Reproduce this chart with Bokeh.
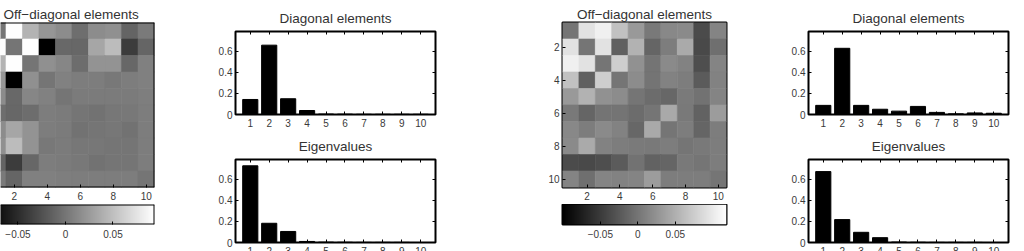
import numpy as np
from bokeh.plotting import figure
from bokeh.models import (ColumnDataSource, Range1d, LinearAxis, FixedTicker, LinearColorMapper, Span,
                          CustomLabelingPolicy)
from bokeh.layouts import row, column
from bokeh.palettes import Greys256
from bokeh.embed import file_html
from bokeh.resources import INLINE

# ---------------- data ----------------
IDX = [1, 2, 3, 4, 5, 6, 7, 8, 9, 10]

OFFDIAG_A = [
    [0.000, 0.093, 0.042, 0.022, 0.015, -0.005, 0.015, 0.018, -0.012, 0.003],
    [0.093, 0.000, 0.093, -0.080, -0.009, -0.010, 0.033, 0.048, -0.039, -0.011],
    [0.042, 0.093, 0.000, 0.018, 0.011, -0.006, 0.020, 0.020, -0.010, 0.007],
    [0.022, -0.080, 0.018, 0.000, 0.008, 0.005, 0.005, 0.002, 0.005, 0.007],
    [0.015, -0.009, 0.011, 0.008, 0.000, 0.004, 0.004, 0.004, 0.004, 0.006],
    [-0.005, -0.010, -0.006, 0.005, 0.004, 0.000, -0.002, 0.001, 0.002, 0.005],
    [0.015, 0.033, 0.020, 0.005, 0.004, -0.002, 0.000, 0.001, -0.002, 0.005],
    [0.018, 0.048, 0.020, 0.002, 0.004, 0.001, 0.001, 0.000, 0.000, 0.005],
    [-0.012, -0.039, -0.010, 0.005, 0.004, 0.002, -0.002, 0.000, 0.000, 0.005],
    [0.003, -0.011, 0.007, 0.007, 0.006, 0.005, 0.005, 0.005, 0.005, 0.000],
]

OFFDIAG_B = [
    [0.000, 0.093, 0.105, 0.065, 0.031, 0.003, 0.016, 0.018, -0.036, 0.013],
    [0.093, 0.000, 0.093, -0.018, 0.052, -0.014, 0.007, 0.045, -0.038, -0.005],
    [0.105, 0.093, 0.000, 0.076, 0.024, -0.001, 0.018, 0.011, -0.033, 0.013],
    [0.065, -0.018, 0.076, 0.000, 0.020, -0.001, 0.011, 0.007, -0.022, 0.011],
    [0.031, 0.052, 0.024, 0.020, 0.000, -0.008, -0.012, 0.004, -0.003, 0.013],
    [0.003, -0.014, -0.001, -0.001, -0.008, 0.000, 0.044, 0.003, -0.016, 0.033],
    [0.016, 0.007, 0.018, 0.011, -0.012, 0.044, 0.000, 0.007, -0.014, 0.007],
    [0.018, 0.045, 0.011, 0.007, 0.004, 0.003, 0.007, 0.000, 0.003, 0.007],
    [-0.036, -0.038, -0.033, -0.022, -0.003, -0.016, -0.014, 0.003, 0.000, 0.007],
    [0.013, -0.005, 0.013, 0.011, 0.013, 0.033, 0.007, 0.007, 0.007, 0.000],
]

DIAG_A = [0.143, 0.660, 0.150, 0.038, 0.004, 0.003, 0.002, 0.002, 0.002, 0.002]
EIG_A = [0.730, 0.183, 0.105, 0.010, 0.003, 0.002, 0.001, 0.001, 0.001, 0.000]
DIAG_B = [0.087, 0.630, 0.087, 0.050, 0.032, 0.077, 0.020, 0.006, 0.015, 0.012]
EIG_B = [0.675, 0.218, 0.097, 0.046, 0.004, 0.002, 0.001, 0.001, 0.001, 0.000]

CLIM_A = (-0.080, 0.0937)
CLIM_B = (-0.1004, 0.1183)

HEAT_TICKS = [2, 4, 6, 8, 10]
BAR_YTICKS = [0, 0.2, 0.4, 0.6]
CB_TICKS = [-0.05, 0, 0.05]
CB_LABELS = {-0.05: "\u22120.05", 0: "0", 0.05: "0.05"}
BAR_YLABELS = {0: "0", 0.2: "0.2", 0.4: "0.4", 0.6: "0.6"}

TITLE_HEAT = "Off\u2212diagonal elements"
TITLE_DIAG = "Diagonal elements"
TITLE_EIG = "Eigenvalues"

# ---------------- style ----------------
FONT = "Liberation Sans"
LABEL_COLOR = "#3a3a3a"
TITLE_COLOR = "#333333"
LEFT_CUT = 0.667  # part of the first column hidden at the left edge


def base_fig(width, height, xr, yr, mbl, mbr, mbt, mbb):
    p = figure(width=width, height=height, x_range=xr, y_range=yr,
               x_axis_type=None, y_axis_type=None,
               output_backend="svg", toolbar_location=None,
               min_border_left=mbl, min_border_right=mbr,
               min_border_top=mbt, min_border_bottom=mbb)
    p.background_fill_color = "white"
    p.border_fill_color = "white"
    p.outline_line_color = "black"
    p.outline_line_width = 2
    return p


def style_axis(ax, labels=True, standoff=4):
    ax.axis_line_color = None
    ax.major_tick_in = 3
    ax.major_tick_out = 0
    ax.major_tick_line_color = "black"
    ax.major_tick_line_width = 1
    ax.minor_tick_line_color = None
    ax.major_label_text_font = FONT
    ax.major_label_text_font_size = "10px"
    ax.major_label_text_color = LABEL_COLOR
    ax.major_label_standoff = standoff
    if not labels:
        # tick marks only: no label is drawn
        ax.major_label_text_font_size = "1px"
        ax.major_label_standoff = 0
        ax.major_label_policy = CustomLabelingPolicy(code="return new Set()")


def set_title(p, text, align="center", offset=0, standoff=5):
    p.title.text = text
    p.title.text_font = FONT
    p.title.text_font_size = "13.5px"
    p.title.text_font_style = "normal"
    p.title.text_color = TITLE_COLOR
    p.title.align = align
    p.title.offset = offset
    p.title.standoff = standoff


def bar_fig(vals, title, width, height, mbl, mbr, mbt, mbb):
    p = base_fig(width, height, Range1d(0.22, 10.78), Range1d(0, 0.79), mbl, mbr, mbt, mbb)
    src = ColumnDataSource(dict(x=IDX, top=vals))
    p.vbar(x="x", top="top", width=0.8, source=src, fill_color="black", line_color="black", line_width=1)
    xb = LinearAxis(ticker=FixedTicker(ticks=IDX))
    style_axis(xb, standoff=4)
    p.add_layout(xb, "below")
    yl = LinearAxis(ticker=FixedTicker(ticks=BAR_YTICKS), major_label_overrides=BAR_YLABELS)
    style_axis(yl, standoff=3)
    p.add_layout(yl, "left")
    xt = LinearAxis(ticker=FixedTicker(ticks=IDX))
    style_axis(xt, labels=False)
    p.add_layout(xt, "above")
    yr = LinearAxis(ticker=FixedTicker(ticks=BAR_YTICKS))
    style_axis(yr, labels=False)
    p.add_layout(yr, "right")
    set_title(p, title, standoff=3)
    return p


def heat_fig(mat, clim, x_start, show_y, cut_left, width, mbl, mbr, title_align, title_offset):
    mapper = LinearColorMapper(palette=Greys256, low=clim[0], high=clim[1])
    xs, ys, vs = [], [], []
    for r, rowvals in enumerate(mat):
        for c, v in enumerate(rowvals):
            xs.append(IDX[c])
            ys.append(IDX[r])
            vs.append(v)
    src = ColumnDataSource(dict(x=xs, y=ys, v=vs))
    p = base_fig(width, 204, Range1d(x_start, 10.5), Range1d(10.5, 0.5), mbl, mbr, 22, 17)
    p.rect(x="x", y="y", width=1, height=1, source=src,
           fill_color={"field": "v", "transform": mapper},
           line_color={"field": "v", "transform": mapper}, line_width=0.6)
    xb = LinearAxis(ticker=FixedTicker(ticks=HEAT_TICKS))
    style_axis(xb, standoff=4)
    p.add_layout(xb, "below")
    if show_y:
        yl = LinearAxis(ticker=FixedTicker(ticks=HEAT_TICKS))
        style_axis(yl, standoff=3)
        p.add_layout(yl, "left")
    if cut_left:
        p.outline_line_color = None
        p.add_layout(Span(location=10.5, dimension="height", line_color="black", line_width=2))
        p.add_layout(Span(location=0.5, dimension="width", line_color="black", line_width=2))
        p.add_layout(Span(location=10.5, dimension="width", line_color="black", line_width=2))
    set_title(p, TITLE_HEAT, align=title_align, offset=title_offset, standoff=2)
    return p, mapper


def cbar_fig(clim, mapper, x_start, cut_left, width, mbl, mbr):
    p = base_fig(width, 47, Range1d(x_start, clim[1]), Range1d(0, 1), mbl, mbr, 0, 27)
    grad = np.linspace(clim[0], clim[1], 256).reshape(1, -1)
    p.image(image=[grad], x=clim[0], y=0, dw=clim[1] - clim[0], dh=1, color_mapper=mapper)
    xb = LinearAxis(ticker=FixedTicker(ticks=CB_TICKS), major_label_overrides=CB_LABELS)
    style_axis(xb, standoff=5)
    p.add_layout(xb, "below")
    if cut_left:
        p.outline_line_color = None
        p.add_layout(Span(location=clim[1], dimension="height", line_color="black", line_width=2))
        p.add_layout(Span(location=0, dimension="width", line_color="black", line_width=2))
        p.add_layout(Span(location=1, dimension="width", line_color="black", line_width=2))
    return p


# ---------------- panels ----------------
hmA, mapA = heat_fig(OFFDIAG_A, CLIM_A, 0.5 + LEFT_CUT, False, True, 170, 0, 16, "left", 3)
cbA = cbar_fig(CLIM_A, mapA, CLIM_A[0] + (CLIM_A[1] - CLIM_A[0]) * LEFT_CUT / 10.0, True, 170, 0, 16)

barA1 = bar_fig(DIAG_A, TITLE_DIAG, 370, 132, 65, 105, 31, 18)
barA2 = bar_fig(EIG_A, TITLE_EIG, 370, 136, 65, 105, 27, 26)

hmB, mapB = heat_fig(OFFDIAG_B, CLIM_B, 0.5, True, False, 205, 22, 19, "center", 0)
cbB = cbar_fig(CLIM_B, mapB, CLIM_B[0], False, 205, 22, 19)

barB1 = bar_fig(DIAG_B, TITLE_DIAG, 279, 132, 63, 16, 31, 18)
barB2 = bar_fig(EIG_B, TITLE_EIG, 279, 136, 63, 16, 27, 26)

root = row(column(hmA, cbA), column(barA1, barA2), column(hmB, cbB), column(barB1, barB2),
           width=1024, height=251, styles={"overflow": "hidden"})

open("out.html", "w").write(file_html(root, INLINE))
